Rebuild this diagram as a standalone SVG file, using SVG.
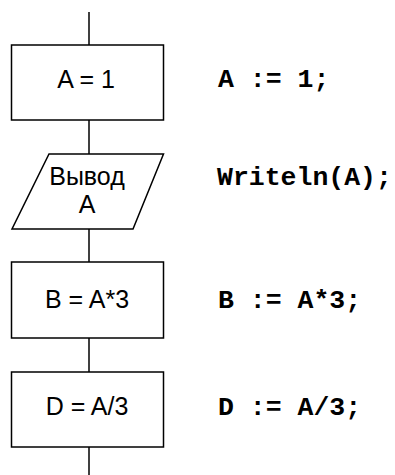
<svg xmlns="http://www.w3.org/2000/svg" width="395" height="475" viewBox="0 0 395 475">
<style>
.shape{fill:#fff;stroke:#000;stroke-width:1.5}
.line{stroke:#000;stroke-width:1.5;fill:none}
.lbl{font-family:"Liberation Sans",Arial,sans-serif;font-size:25px;fill:#000;text-anchor:middle}
.code{font-family:"Liberation Mono","Courier New",monospace;font-weight:bold;font-size:26.5px;fill:#000}
</style>
<rect width="395" height="475" fill="#fff"/>
<g id="connectors">
<line class="line" x1="89" y1="12" x2="89" y2="45"/>
<line class="line" x1="89" y1="120" x2="89" y2="154"/>
<line class="line" x1="89" y1="229" x2="89" y2="262"/>
<line class="line" x1="89" y1="338" x2="89" y2="372"/>
<line class="line" x1="89" y1="447" x2="89" y2="475"/>
</g>
<g id="node-a1">
<rect class="shape" x="11.5" y="45" width="152" height="75"/>
<text class="lbl" x="86" y="88">A = 1</text>
</g>
<g id="node-output">
<polygon class="shape" points="49,154 163.5,154 133,229 12,229"/>
<text class="lbl" x="87" y="185">Вывод</text>
<text class="lbl" x="87" y="213">A</text>
</g>
<g id="node-b">
<rect class="shape" x="11.5" y="262" width="152" height="76"/>
<text class="lbl" x="87" y="308">B = A*3</text>
</g>
<g id="node-d">
<rect class="shape" x="11.5" y="372" width="152" height="75"/>
<text class="lbl" x="87" y="415">D = A/3</text>
</g>
<g id="code">
<text class="code" x="218" y="87" xml:space="preserve">A := 1;</text>
<text class="code" x="217" y="185">Writeln(A);</text>
<text class="code" x="218" y="308" xml:space="preserve">B := A*3;</text>
<text class="code" x="218" y="415" xml:space="preserve">D := A/3;</text>
</g>
</svg>
